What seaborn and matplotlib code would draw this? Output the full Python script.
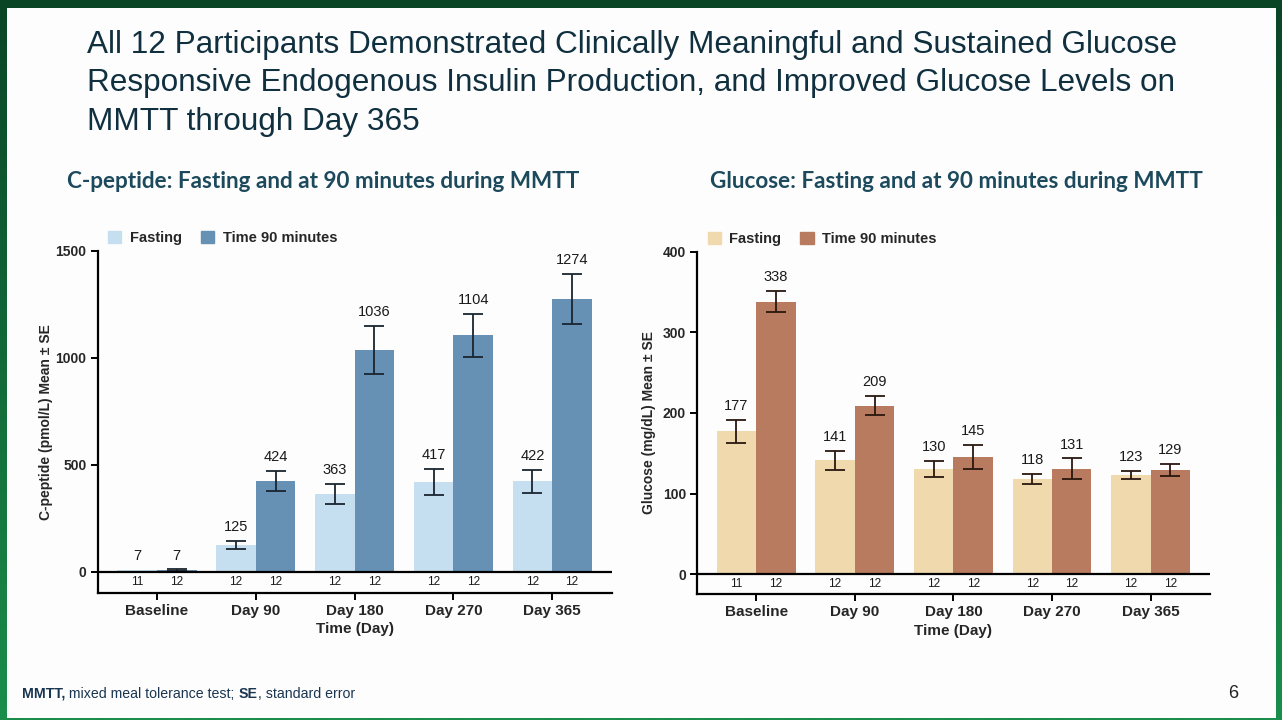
import numpy as np
import pandas as pd
import matplotlib
matplotlib.use("Agg")
import matplotlib.pyplot as plt
import matplotlib.patches as mpatches
import seaborn as sns

sns.set_theme(style="ticks")
plt.rcParams["font.family"] = ["Liberation Sans", "DejaVu Sans"]

# ---------------------------------------------------------------------------
# data
# ---------------------------------------------------------------------------
DAYS = ["Baseline", "Day 90", "Day 180", "Day 270", "Day 365"]
GROUPS = ["Fasting", "Time 90 minutes"]

cpep_fasting = [7, 125, 363, 417, 422]
cpep_fasting_se = [0, 18, 48, 61, 55]
cpep_t90 = [7, 424, 1036, 1104, 1274]
cpep_t90_se = [3, 45, 113, 102, 117]

gluc_fasting = [177, 141, 130, 118, 123]
gluc_fasting_se = [14, 12, 10, 6, 5]
gluc_t90 = [338, 209, 145, 131, 129]
gluc_t90_se = [13, 11.5, 15, 12.5, 7.5]

n_fasting = [11, 12, 12, 12, 12]
n_t90 = [12, 12, 12, 12, 12]

TITLE = ("All 12 Participants Demonstrated Clinically Meaningful and Sustained Glucose\n"
         "Responsive Endogenous Insulin Production, and Improved Glucose Levels on\n"
         "MMTT through Day 365")

NAVY = "#10303f"
SUB = "#1c4a5c"


def long_frame(fasting, t90, fasting_se, t90_se, n_f, n_t):
    rows = []
    for i, d in enumerate(DAYS):
        rows.append((d, GROUPS[0], fasting[i], fasting_se[i], n_f[i]))
        rows.append((d, GROUPS[1], t90[i], t90_se[i], n_t[i]))
    return pd.DataFrame(rows, columns=["day", "group", "value", "se", "n"])


def draw_panel(ax, df, colors, err_color, ylim, yticks, ylabel):
    sns.barplot(data=df, x="day", y="value", hue="group", order=DAYS,
                hue_order=GROUPS, palette=colors, saturation=1, width=0.8,
                errorbar=None, legend=False, ax=ax, linewidth=0)
    for cont, grp in zip(ax.containers, GROUPS):
        sub = df[df["group"] == grp].set_index("day").loc[DAYS]
        xs = [b.get_x() + b.get_width() / 2 for b in cont]
        keep = sub["se"].values > 0
        ax.errorbar(np.array(xs)[keep], sub["value"].values[keep],
                    yerr=sub["se"].values[keep], fmt="none",
                    ecolor=err_color, elinewidth=1.3, capsize=7, capthick=1.3,
                    zorder=4)
        for x, v, s, n in zip(xs, sub["value"], sub["se"], sub["n"]):
            ax.annotate(f"{v:g}", (x, v + s), xytext=(0, 5),
                        textcoords="offset points", ha="center", va="bottom",
                        fontsize=10.5, color="#1a1a1a")
            ax.text(x, ylim[0] / 2, str(n), ha="center", va="center",
                    fontsize=8.5, color="#1a1a1a")
    ax.axhline(0, color="black", lw=1.6, zorder=5)
    ax.set_ylim(*ylim)
    ax.set_xlim(-0.6, 4.6)
    ax.set_yticks(yticks)
    ax.set_yticklabels([str(t) for t in yticks], fontweight="bold", fontsize=10)
    ax.set_xticks(range(len(DAYS)))
    ax.set_xticklabels(DAYS, fontweight="bold", fontsize=11)
    ax.tick_params(axis="both", length=5, width=1.4, color="black", pad=3)
    ax.set_xlabel("Time (Day)", fontweight="bold", fontsize=11, labelpad=3)
    ax.set_ylabel(ylabel, fontweight="bold", fontsize=10)
    for sp in ["top", "right"]:
        ax.spines[sp].set_visible(False)
    for sp in ["left", "bottom"]:
        ax.spines[sp].set_color("black")
        ax.spines[sp].set_linewidth(1.6)
    ax.set_facecolor("none")
    handles = [mpatches.Patch(color=c, label=g) for c, g in zip(colors, GROUPS)]
    ax.legend(handles=handles, loc="center left", bbox_to_anchor=(-0.005, 1.037),
              ncol=2, frameon=False, handlelength=0.9, handleheight=0.9,
              handletextpad=0.6, columnspacing=1.3,
              prop={"weight": "bold", "size": 10.5})


fig = plt.figure(figsize=(12.82, 7.2), dpi=100)

# green slide frame with a gradient, white page on top
bg = fig.add_axes([0, 0, 1, 1])
grad = np.linspace(0, 1, 256).reshape(-1, 1)
cmap = matplotlib.colors.LinearSegmentedColormap.from_list("frame", ["#0a4526", "#1a8e4a"])
bg.imshow(grad, aspect="auto", cmap=cmap, extent=[0, 1, 0, 1], origin="upper")
bg.add_patch(mpatches.Rectangle((7 / 1282, 2 / 720), 1 - 13 / 1282, 1 - 10 / 720,
                                facecolor="#fdfdfd", edgecolor="none"))
bg.set_xlim(0, 1)
bg.set_ylim(0, 1)
bg.axis("off")

fig.text(87 / 1282, 1 - 30 / 720, TITLE, ha="left", va="top", fontsize=22.7,
         color=NAVY, linespacing=1.36)

fig.text(323 / 1282, 1 - 182 / 720, "C-peptide: Fasting and at 90 minutes during MMTT",
         ha="center", va="center", fontsize=16.2, fontweight="bold", color=SUB,
         family=["Lato", "DejaVu Sans"])
fig.text(956 / 1282, 1 - 182 / 720, "Glucose: Fasting and at 90 minutes during MMTT",
         ha="center", va="center", fontsize=16.2, fontweight="bold", color=SUB,
         family=["Lato", "DejaVu Sans"])

ax1 = fig.add_axes([0.0762, 0.1764, 0.4008, 0.4754])
ax2 = fig.add_axes([0.5437, 0.1746, 0.4000, 0.4758])

cpep = long_frame(cpep_fasting, cpep_t90, cpep_fasting_se, cpep_t90_se, n_fasting, n_t90)
gluc = long_frame(gluc_fasting, gluc_t90, gluc_fasting_se, gluc_t90_se, n_fasting, n_t90)

draw_panel(ax1, cpep, ["#c5dff0", "#6690b4"], "#1a2530", (-100, 1500),
           [0, 500, 1000, 1500], "C-peptide (pmol/L) Mean \u00b1 SE")
draw_panel(ax2, gluc, ["#f0d9ad", "#b87b5f"], "#2a1810", (-25, 400),
           [0, 100, 200, 300, 400], "Glucose (mg/dL) Mean \u00b1 SE")
ax1.yaxis.set_label_coords(-0.086, 0.5)
ax2.yaxis.set_label_coords(-0.080, 0.5)

# footer with mixed bold / regular pieces
renderer = fig.canvas.get_renderer()
x = 22 / 1282
for txt, wt in [("MMTT,", "bold"), (" mixed meal tolerance test; ", "normal"),
                ("SE", "bold"), (", standard error", "normal")]:
    t = fig.text(x, 1 - 694 / 720, txt, ha="left", va="center", fontsize=10.2,
                 fontweight=wt, color="#1a3550")
    x += t.get_window_extent(renderer).width / 1282
fig.text(1233 / 1282, 1 - 694 / 720, "6", ha="center", va="center", fontsize=13,
         color="#222222")

fig.savefig("out.png", dpi=100)
